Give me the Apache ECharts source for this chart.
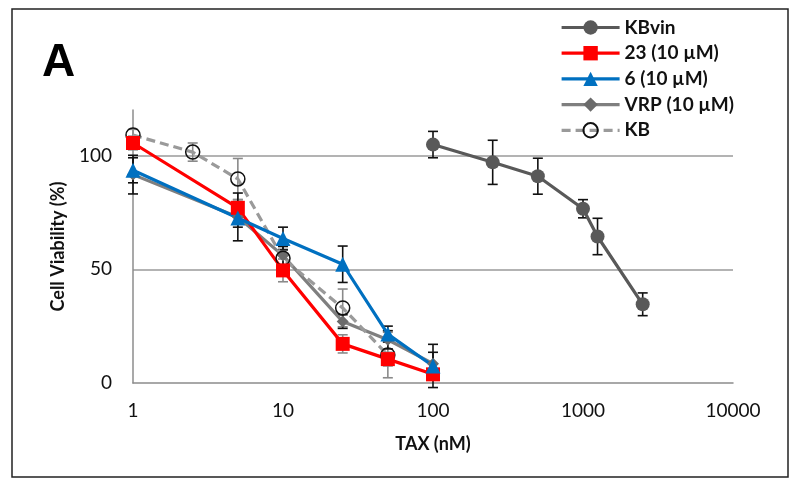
<!DOCTYPE html>
<html><head><meta charset="utf-8">
<script src="https://cdn.jsdelivr.net/npm/echarts@6/dist/echarts.min.js"></script>
<style>html,body{margin:0;padding:0;background:#fff}#c{width:800px;height:488px}</style>
</head><body><div id="c"></div>
<script>
const xTicks = [1, 10, 100, 1000, 10000];
const xKBvin = [100, 250, 500, 1000, 1250, 2500];
const yKBvin = [104.8, 97, 90.9, 76.6, 64.4, 34.6];
const eKBvin = [5.8, 9.7, 7.9, 4, 8, 5];
const x23 = [1, 5, 10, 25, 50, 100];
const y23 = [105.5, 77, 49.5, 17.2, 10.5, 3.8];
const e23 = [3, 3.5, 5, 4, 3, 2];
const x6 = [1, 5, 10, 25, 50, 100];
const y6 = [93.5, 72.5, 63.5, 52.2, 21.5, 7.5];
const e6 = [5.5, 4, 5, 8, 3.5, 9.5];
const xVRP = [1, 5, 10, 25, 50, 100];
const yVRP = [91.6, 73, 56, 27, 19, 8.5];
const eVRP = [8.5, 10.5, 4, 3, 4, 5];
const xKB = [1, 2.5, 5, 10, 25, 50];
const yKB = [109, 101.5, 89.7, 54.8, 33, 12.3];
const eKB = [2.5, 4, 9, 4, 8.3, 10];

const FONT = 'Lato';
function pts(xs, ys) { return xs.map((x, i) => [x, ys[i]]); }
function errData(xs, ys, es) { return xs.map((x, i) => [x, ys[i], es[i]]); }
function errSeries(xs, ys, es, color) {
  return {
    type: 'custom', silent: true, z: 1,
    dimensions: ['x', 'y', 'e'],
    encode: { x: 0, y: 1 },
    data: errData(xs, ys, es),
    renderItem: function (params, api) {
      const x = api.value(0), y = api.value(1), e = api.value(2);
      const top = api.coord([x, y + e]);
      const bot = api.coord([x, y - e]);
      const w = 5;
      const st = { stroke: color, lineWidth: 1.6 };
      return { type: 'group', children: [
        { type: 'line', shape: { x1: top[0], y1: top[1], x2: bot[0], y2: bot[1] }, style: st },
        { type: 'line', shape: { x1: top[0] - w, y1: top[1], x2: top[0] + w, y2: top[1] }, style: st },
        { type: 'line', shape: { x1: bot[0] - w, y1: bot[1], x2: bot[0] + w, y2: bot[1] }, style: st }
      ]};
    }
  };
}
function lineSeries(name, xs, ys, color, symbol, size, extra) {
  return Object.assign({
    name: name, type: 'line', z: 3, data: pts(xs, ys),
    symbol: symbol, symbolSize: size, showAllSymbol: true,
    lineStyle: { color: color, width: 3.2 },
    itemStyle: { color: color },
    emphasis: { disabled: true }
  }, extra || {});
}

const chart = echarts.init(document.getElementById('c'), null, { renderer: 'canvas' });
chart.setOption({
  animation: false,
  backgroundColor: '#fff',
  graphic: [
    { type: 'rect', shape: { x: 12, y: 9, width: 776, height: 468 }, style: { fill: 'none', stroke: '#222', lineWidth: 1.5 }, z: 0 },
    { type: 'text', left: 42, top: 40, style: { text: 'A', font: 'bold 46px "Liberation Sans", Arial', fill: '#000' } }
  ],
  legend: {
    orient: 'vertical', left: 555, top: 13,
    itemWidth: 58, itemHeight: 18, itemGap: 6.7,
    lineStyle: { width: 3.2 },
    data: ['KBvin', '23 (10 µM)', '6 (10 µM)', 'VRP (10 µM)', 'KB'],
    textStyle: { fontFamily: FONT, fontWeight: 'bold', fontSize: 19, color: '#111', lineHeight: 18 }
  },
  grid: { left: 133, right: 67, top: 110, bottom: 105 },
  xAxis: {
    type: 'log', logBase: 10, min: 1, max: 10000,
    name: 'TAX (nM)', nameLocation: 'middle', nameGap: 52,
    nameTextStyle: { fontFamily: FONT, fontWeight: 'bold', fontSize: 18, color: '#111' },
    axisLine: { lineStyle: { color: '#8c8c8c', width: 1.5 } },
    axisTick: { show: false },
    splitLine: { show: false },
    axisLabel: { fontFamily: FONT, fontSize: 19, color: '#111', margin: 18,
      formatter: v => (xTicks.indexOf(Math.round(v)) >= 0 ? String(Math.round(v)) : '') }
  },
  yAxis: {
    type: 'value', min: 0, max: 120, interval: 50,
    name: 'Cell Viability (%)', nameLocation: 'middle', nameGap: 66,
    nameTextStyle: { fontFamily: FONT, fontWeight: 'bold', fontSize: 18, color: '#111' },
    axisLine: { show: true, lineStyle: { color: '#8c8c8c', width: 1.5 } },
    axisTick: { show: false },
    splitLine: { show: true, showMinLine: false, showMaxLine: false, lineStyle: { color: '#9a9a9a', width: 1.5 } },
    axisLabel: { fontFamily: FONT, fontSize: 19, color: '#111', margin: 21, showMaxLabel: false }
  },
  series: [
    errSeries(xKB, yKB, eKB, '#8a8a8a'),
    errSeries(x23, y23, e23, '#8a8a8a'),
    errSeries(xVRP, yVRP, eVRP, '#111'),
    errSeries(x6, y6, e6, '#111'),
    errSeries(xKBvin, yKBvin, eKBvin, '#111'),
    lineSeries('KBvin', xKBvin, yKBvin, '#595959', 'circle', 14),
    lineSeries('VRP (10 µM)', xVRP, yVRP, '#7f7f7f', 'diamond', 12, { itemStyle: { color: '#6b6b6b' } }),
    lineSeries('KB', xKB, yKB, '#9a9a9a', 'circle', 14, {
      lineStyle: { color: '#9a9a9a', width: 3.2, type: [9, 5] },
      itemStyle: { color: 'rgba(255,255,255,0)', borderColor: '#111', borderWidth: 1.5 }
    }),
    lineSeries('23 (10 µM)', x23, y23, '#ff0000', 'rect', 14),
    lineSeries('6 (10 µM)', x6, y6, '#0070c0', 'triangle', 15)
  ]
});
</script>
</body></html>
